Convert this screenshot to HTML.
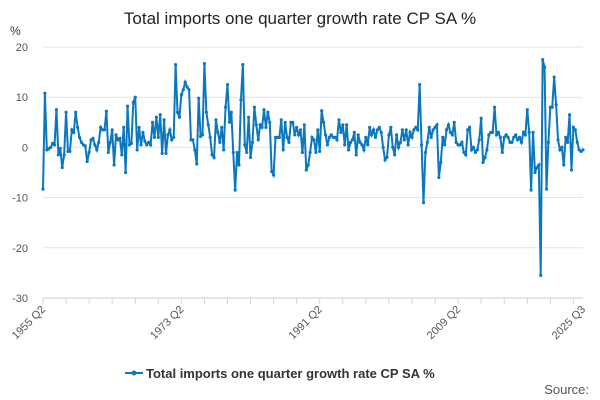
<!DOCTYPE html>
<html><head><meta charset="utf-8"><style>
body{margin:0;background:#fff;font-family:"Liberation Sans",sans-serif}
svg{display:block}
</style></head><body>
<svg id="c" width="600" height="400" xmlns="http://www.w3.org/2000/svg">
<text x="300" y="24" text-anchor="middle" font-size="17" fill="#222">Total imports one quarter growth rate CP SA %</text>
<text x="10" y="35" font-size="12" fill="#333">%</text>
<g id="grid"></g><g id="xt"></g><g id="series"></g>
<g>
<line x1="125" y1="373" x2="143" y2="373" stroke="#0b78bd" stroke-width="2"/>
<circle cx="134" cy="373" r="2.5" fill="#0b78bd"/>
<text x="146" y="378" font-size="13" font-weight="bold" fill="#333">Total imports one quarter growth rate CP SA %</text>
</g>
<text x="589" y="394" text-anchor="end" font-size="13" fill="#555">Source:</text>
</svg>
<script>
const yTicks=[20,10,0,-10,-20,-30];
const xLabels=["1955 Q2","1973 Q2","1991 Q2","2009 Q2","2025 Q3"];
const xLabelIdx=[0,72,144,216,281];
const values=[-8.3,10.8,-0.5,-0.3,0,0.8,0.5,7.5,-1.5,-0.2,
-4,-1.5,7,-0.8,-0.8,3.5,3,7,4,2,
1,0.5,0.3,-2.8,-1,1.5,1.8,0.5,-0.5,1,
4,3.5,3.5,7.2,-1,1,3.5,-3.5,2.5,1.5,
1.8,-1.5,4,-5,8.2,0.5,0.8,9,10,-0.5,
4,0.5,3,1.2,0.5,1,0.5,5,2,6,
2,6.5,-1.2,5.5,-1.2,2.5,3.5,1.5,2,16.5,
7,6,10.5,11.5,13,12,11.5,1.5,1.5,-0.5,
-3.3,9.8,2.2,2.5,16.7,7,4.5,2,-1.5,-2,
5.5,3,1,4,-0.5,8,12.5,5,7,-1,
-8.5,-1,-3.5,9.5,16.5,0.5,-1,6,-2,1,
8,4.5,1.5,4.5,4,7.5,4,7,5,-4.8,
-5.5,2,2,2,5.5,-0.5,5,2,1,5,
5,2.5,4,2.5,3.5,-1,4.5,-4.5,-3.5,-1,
2,1.5,-1,3.5,-0.8,7.3,5,2.5,0.5,2,
2.5,2,2,1.5,5.5,3,4.5,0.5,4.5,-0.5,
1,1.5,3,-1.5,2.5,1,0.5,-0.5,2,0.5,
4,2.5,3.5,2,3.5,4,3,0,-2.5,-2,
2.5,4,0,-1.5,2.5,0,1,3.5,1.5,3.5,
0.5,3,2,3.5,4,3.5,12.5,0.5,-11,-1,
1,4,2,3.5,4,4.5,-6,-3,2,0.5,
3.5,4.5,3,2.5,5,1,0.5,0.5,1,-1,
-1.5,3.5,4,-0.5,0,-1,-0.5,1.5,5.8,-3,
-2,-0.5,2.5,3,3,8,2.5,3,2,-1,
2,2.5,2,1,1,2,2.5,1.5,2,1,
3,2.5,7.5,3,-8.5,3,-5,-4,-3.5,-25.5,
17.5,16,-8.3,1,8,8,14,8.5,1.5,-0.5,
0,-3.5,2,1,6.5,-4.5,4,3.5,1,-0.5,
-0.8,-0.5];
const X0=43,X1=583,Y0=47,Y1=298,ymax=20,ymin=-30;
const xs=i=>X0+i*(X1-X0)/(values.length-1);
const ys=v=>Y0+(ymax-v)*(Y1-Y0)/(ymax-ymin);
const NS="http://www.w3.org/2000/svg";
const grid=document.getElementById('grid');
yTicks.forEach(t=>{
 const l=document.createElementNS(NS,'line');
 
 
 l.setAttribute('x1',X0);l.setAttribute('x2',X1);l.setAttribute('y1',ys(t));l.setAttribute('y2',ys(t));
 l.setAttribute('stroke',t===-30?'#ccc':'#e3e3e3');grid.appendChild(l);
 const tx=document.createElementNS(NS,'text');
 
 
 tx.setAttribute('x',28);tx.setAttribute('y',ys(t)+4);tx.setAttribute('text-anchor','end');
 tx.setAttribute('font-size','11');tx.setAttribute('fill','#555');tx.textContent=t;grid.appendChild(tx);
});
const xt=document.getElementById('xt');
for(let i=0;i<values.length;i+=12){
 const l=document.createElementNS(NS,'line');
 
 
 l.setAttribute('x1',xs(i));l.setAttribute('x2',xs(i));l.setAttribute('y1',Y1);l.setAttribute('y2',Y1+6);
 l.setAttribute('stroke','#ccd6eb');xt.appendChild(l);
}
xLabels.forEach((s,k)=>{
 const x=xs(xLabelIdx[k]);
 const tx=document.createElementNS(NS,'text');
 
 
 tx.setAttribute('x',x+3);tx.setAttribute('y',Y1+12);tx.setAttribute('text-anchor','end');
 tx.setAttribute('transform',`rotate(-45 ${x+3} ${Y1+12})`);
 tx.setAttribute('font-size','11');tx.setAttribute('fill','#555');tx.textContent=s;xt.appendChild(tx);
});
const g=document.getElementById('series');
const p=document.createElementNS(NS,'polyline');


p.setAttribute('points',values.map((v,i)=>xs(i).toFixed(2)+','+ys(v).toFixed(2)).join(' '));
p.setAttribute('fill','none');p.setAttribute('stroke','#0b78bd');p.setAttribute('stroke-width','2');
g.appendChild(p);
values.forEach((v,i)=>{
 const c=document.createElementNS(NS,'circle');
 
 
 c.setAttribute('cx',xs(i));c.setAttribute('cy',ys(v));c.setAttribute('r','1.6');c.setAttribute('fill','#0b78bd');
 g.appendChild(c);
});
</script>
</body></html>
